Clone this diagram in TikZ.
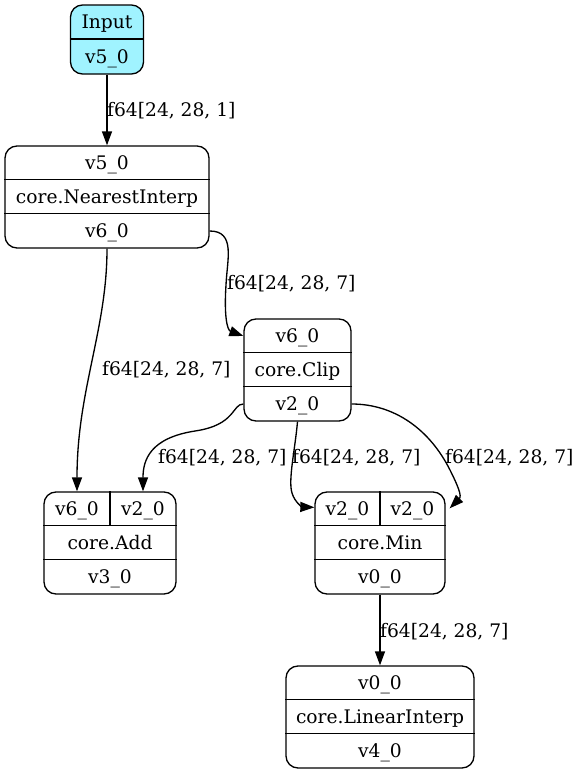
\documentclass[tikz,border=0pt]{standalone}
\usepackage{fontspec}
\setmainfont{DejaVu Serif}
\usetikzlibrary{arrows.meta}
\definecolor{inputfill}{RGB}{160,243,255}
\tikzset{
  rec/.style={draw, line width=1.33pt, rounded corners=12pt, inner sep=0pt, minimum height=102pt},
  cell/.style={inner sep=0pt, text height=13pt, text depth=0pt, font=\fontsize{18.67pt}{22pt}\selectfont},
  lbl/.style={cell, anchor=west},
  sep/.style={line width=1.33pt},
  edge/.style={line width=1.33pt, -{Triangle[length=14pt, width=10pt]}},
}
\begin{document}
\begin{tikzpicture}[x=1pt, y=-1pt]
\useasboundingbox (0,0) rectangle (580,774);

% Input record
\node[rec, fill=inputfill, minimum width=73pt, minimum height=69pt] (in) at (107,39.5) {};
\draw[sep] ([yshift=-34.5pt]in.north west) -- ([yshift=-34.5pt]in.north east);
\node[cell] (in-t) at (107,22.25) {Input};
\node[cell] (in-o) at (107,56.75) {v5\_0};

% core.NearestInterp
\node[rec, minimum width=204pt] (ni) at (107,197) {};
\draw[sep] ([yshift=-34pt]ni.north west) -- ([yshift=-34pt]ni.north east);
\draw[sep] ([yshift=-68pt]ni.north west) -- ([yshift=-68pt]ni.north east);
\node[cell] (ni-i) at (107,163) {v5\_0};
\node[cell] (ni-op) at (107,197) {core.NearestInterp};
\node[cell] (ni-o) at (107,231) {v6\_0};

% core.Clip
\node[rec, minimum width=107pt] (clip) at (297.5,370) {};
\draw[sep] ([yshift=-34pt]clip.north west) -- ([yshift=-34pt]clip.north east);
\draw[sep] ([yshift=-68pt]clip.north west) -- ([yshift=-68pt]clip.north east);
\node[cell] (clip-i) at (297.5,336) {v6\_0};
\node[cell] (clip-op) at (297.5,370) {core.Clip};
\node[cell] (clip-o) at (297.5,404) {v2\_0};

% core.Add
\node[rec, minimum width=132pt] (add) at (110,543) {};
\draw[sep] ([yshift=-34pt]add.north west) -- ([yshift=-34pt]add.north east);
\draw[sep] ([yshift=-68pt]add.north west) -- ([yshift=-68pt]add.north east);
\draw[sep] (add.north) -- ([yshift=-34pt]add.north);
\node[cell] (add-a) at (77,509) {v6\_0};
\node[cell] (add-b) at (143,509) {v2\_0};
\node[cell] (add-op) at (110,543) {core.Add};
\node[cell] (add-o) at (110,577) {v3\_0};

% core.Min
\node[rec, minimum width=130pt] (min) at (380,543) {};
\draw[sep] ([yshift=-34pt]min.north west) -- ([yshift=-34pt]min.north east);
\draw[sep] ([yshift=-68pt]min.north west) -- ([yshift=-68pt]min.north east);
\draw[sep] (min.north) -- ([yshift=-34pt]min.north);
\node[cell] (min-a) at (347.5,509) {v2\_0};
\node[cell] (min-b) at (412.5,509) {v2\_0};
\node[cell] (min-op) at (380,543) {core.Min};
\node[cell] (min-o) at (380,577) {v0\_0};

% core.LinearInterp
\node[rec, minimum width=188pt] (li) at (380,717) {};
\draw[sep] ([yshift=-34pt]li.north west) -- ([yshift=-34pt]li.north east);
\draw[sep] ([yshift=-68pt]li.north west) -- ([yshift=-68pt]li.north east);
\node[cell] (li-i) at (380,683) {v0\_0};
\node[cell] (li-op) at (380,717) {core.LinearInterp};
\node[cell] (li-o) at (380,751) {v4\_0};

% connectors
\draw[edge] (in.south) -- (ni.north);
\draw[edge] (ni.east |- ni-o) .. controls (236,231) and (227,260) .. (226,285)
  .. controls (224,315) and (227,330) .. (clip.west |- clip-i);
\draw[edge] (ni.south) .. controls (107,330) and (77,390) .. (add.north -| add-a);
\draw[edge] (clip.west |- clip-o) .. controls (232,404) and (236,425) .. (195,431)
  .. controls (150,438) and (143,460) .. (add.north -| add-b);
\draw[edge] (clip.south) .. controls (295,450) and (288,480) .. (292,493)
  .. controls (295,503) and (303,507) .. ([yshift=-16pt]min.north west);
\draw[edge] (clip.east |- clip-o) .. controls (395,404) and (430,430) .. (450,470)
  .. controls (458,486) and (462,496) .. ([xshift=4pt,yshift=-17pt]min.north east);
\draw[edge] (min.south) -- (li.north);

% connector labels
\node[lbl] (l1) at (107,110) {f64[24, 28, 1]};
\node[lbl] (l2) at (227,283) {f64[24, 28, 7]};
\node[lbl] (l3) at (102,369) {f64[24, 28, 7]};
\node[lbl] (l4) at (158,457) {f64[24, 28, 7]};
\node[lbl] (l5) at (292,457) {f64[24, 28, 7]};
\node[lbl] (l6) at (445,457) {f64[24, 28, 7]};
\node[lbl] (l7) at (380,631) {f64[24, 28, 7]};
\end{tikzpicture}
\end{document}
